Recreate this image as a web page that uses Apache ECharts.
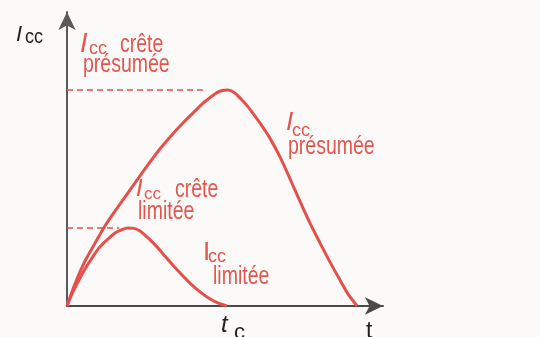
<!DOCTYPE html>
<html>
<head>
<meta charset="utf-8">
<script src="https://cdn.jsdelivr.net/npm/echarts@6/dist/echarts.min.js"></script>
<style>
  html, body { margin: 0; padding: 0; background: #fbfaf8; }
  #chart { width: 540px; height: 337px; }
</style>
</head>
<body>
<div id="chart"></div>
<script>
// Short-circuit current versus time: prospective current and limited current.
// Time / current in arbitrary units (axes run 0..100).
const presumedT = [0, 2.5, 5.7, 8.9, 12.0, 15.2, 18.4, 22.2, 26.3, 29.4, 33.2, 37.3, 40.5, 43.0, 45.3, 47.2,
  49.1, 51.0, 52.9, 54.8, 56.7, 58.5, 61.1, 64.2, 67.4, 70.6, 73.7, 76.9, 80.1, 83.2, 86.4, 88.9, 91.8];
const presumedI = [0, 7.5, 15.3, 21.4, 27.2, 32.3, 37.1, 42.9, 49.0, 53.4, 58.2, 62.9, 66.3, 68.9, 70.9, 72.4,
  73.3, 73.5, 72.6, 70.7, 68.5, 66.0, 62.2, 57.1, 50.7, 43.2, 35.7, 28.2, 21.4, 15.0, 8.8, 4.1, 0];

const limitedT = [0, 1.6, 3.5, 5.7, 7.9, 10.4, 13.0, 15.2, 17.4, 19.3, 21.2, 23.1, 25.3, 27.9, 30.4, 32.9,
  35.8, 38.9, 42.1, 45.3, 48.1, 50.6];
const limitedI = [0, 4.1, 8.2, 12.6, 16.3, 20.1, 22.8, 24.8, 26.0, 26.5, 26.4, 25.5, 23.5, 20.8, 17.7, 14.6,
  11.2, 7.8, 4.8, 2.4, 0.9, 0];

// Peak values marked by dashed guides
const presumedPeak = 73.5;
const presumedPeakT = 43.0;
const limitedPeak = 26.5;
const limitedPeakT = 16.5;

const RED = '#e4504c';
const RED_TEXT = '#e2574f';
const FONT = '"Liberation Sans", Arial, sans-serif';

const zip = (a, b) => a.map((v, i) => [v, b[i]]);

function txt(x, y, text, size, color, opts) {
  return {
    type: 'text', x: x, y: y, scaleX: (opts && opts.sx) || 1,
    style: {
      text: text, fill: color, fontFamily: FONT, fontSize: size,
      fontStyle: (opts && opts.italic) ? 'italic' : 'normal',
      align: 'left', verticalAlign: 'middle'
    }
  };
}

const chart = echarts.init(document.getElementById('chart'), null, { renderer: 'canvas' });

chart.setOption({
  backgroundColor: '#fbfaf8',
  animation: false,
  grid: { left: 67, right: 157, top: 12, bottom: 31 },
  xAxis: {
    type: 'value', min: 0, max: 100,
    axisLine: {
      show: true, onZero: false,
      symbol: ['none', 'arrow'], symbolSize: [13, 18],
      lineStyle: { color: '#4a4a4a', width: 2 }
    },
    axisTick: { show: false }, axisLabel: { show: false }, splitLine: { show: false }
  },
  yAxis: {
    type: 'value', min: 0, max: 100,
    axisLine: {
      show: true, onZero: false,
      symbol: ['none', 'arrow'], symbolSize: [13, 18],
      lineStyle: { color: '#5a5a5a', width: 2 }
    },
    axisTick: { show: false }, axisLabel: { show: false }, splitLine: { show: false }
  },
  series: [
    {
      type: 'line', data: zip(presumedT, presumedI), smooth: 0.3, showSymbol: false,
      lineStyle: { color: RED, width: 3 }, z: 3
    },
    {
      type: 'line', data: zip(limitedT, limitedI), smooth: 0.3, showSymbol: false,
      lineStyle: { color: RED, width: 3 }, z: 3
    },
    {
      type: 'line', data: [[0, presumedPeak], [presumedPeakT, presumedPeak]], showSymbol: false,
      lineStyle: { color: RED, width: 1.5, type: [6, 4] }, z: 2
    },
    {
      type: 'line', data: [[0, limitedPeak], [limitedPeakT, limitedPeak]], showSymbol: false,
      lineStyle: { color: RED, width: 1.5, type: [6, 4] }, z: 2
    }
  ],
  graphic: [
    // vertical axis name
    txt(16, 35, 'I', 22, '#222', { italic: true }),
    txt(25, 37, 'cc', 20, '#222', { sx: 0.9 }),
    // prospective peak
    txt(80, 44, 'I', 27, RED_TEXT, { italic: true }),
    txt(89, 49, 'cc', 18, RED_TEXT),
    txt(120, 45, 'crête', 25, RED_TEXT, { sx: 0.78 }),
    txt(83, 65, 'présumée', 25, RED_TEXT, { sx: 0.78 }),
    // limited peak
    txt(136, 189, 'I', 24, RED_TEXT, { italic: true }),
    txt(144, 194, 'cc', 17, RED_TEXT),
    txt(175, 190, 'crête', 25, RED_TEXT, { sx: 0.78 }),
    txt(138, 212, 'limitée', 25, RED_TEXT, { sx: 0.78 }),
    // prospective current
    txt(286, 123, 'I', 26, RED_TEXT, { italic: true }),
    txt(292, 131, 'cc', 18, RED_TEXT),
    txt(288, 147, 'présumée', 25, RED_TEXT, { sx: 0.78 }),
    // limited current
    txt(203, 253, 'I', 26, RED_TEXT),
    txt(208, 257, 'cc', 18, RED_TEXT),
    txt(213, 277, 'limitée', 25, RED_TEXT, { sx: 0.78 }),
    // time labels
    txt(221, 325, 't', 24, '#222', { italic: true }),
    txt(234, 333, 'c', 22, '#222'),
    txt(366, 332, 't', 23, '#222')
  ]
});
</script>
</body>
</html>
